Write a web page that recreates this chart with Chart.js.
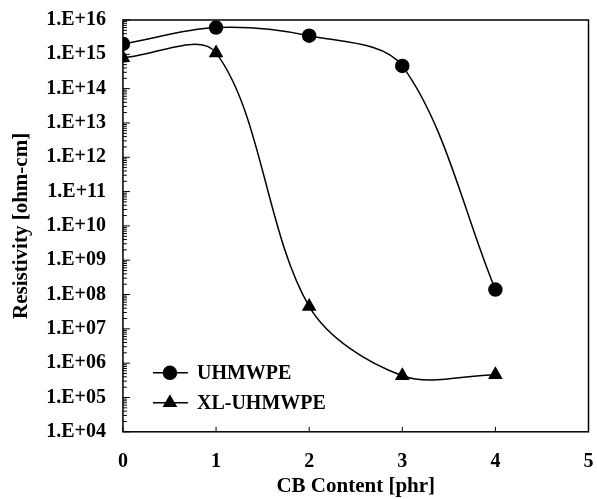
<!DOCTYPE html>
<html>
<head>
  <meta charset="UTF-8">
  <title>Resistivity vs CB Content</title>
  <script src="https://cdn.jsdelivr.net/npm/chart.js"></script>
  <style>
    html, body { margin: 0; padding: 0; background: #fff; }
    #wrap { width: 597px; height: 499px; }
  </style>
</head>
<body>
  <div id="wrap"><canvas id="resChart" width="597" height="499"></canvas></div>

  <script>
    // CB content (phr) and resistivity (ohm-cm)
    const cbContent = [0, 1, 2, 3, 4];
    const uhmwpe = [2.0e15, 6.0e15, 3.5e15, 4.6e14, 1.4e8];
    const xlUhmwpe = [8.0e14, 1.1e15, 4.5e7, 4.3e5, 4.6e5];
    const xTicks = [0, 1, 2, 3, 4, 5];
    const yDecades = [4, 5, 6, 7, 8, 9, 10, 11, 12, 13, 14, 15, 16];

    const FONT = 'Liberation Serif, Times New Roman, serif';

    // frame, inner tick marks and the legend inside the plot
    const framePlugin = {
      id: 'frame',
      afterDraw(chart) {
        const ctx = chart.ctx;
        const a = chart.chartArea;
        const xs = chart.scales.x, ys = chart.scales.y;
        ctx.save();
        ctx.strokeStyle = '#000';
        ctx.lineWidth = 1.5;
        ctx.strokeRect(a.left, a.top, a.right - a.left, a.bottom - a.top);

        ctx.lineWidth = 1;
        ctx.beginPath();
        // x ticks
        xTicks.forEach(v => {
          const px = xs.getPixelForValue(v);
          ctx.moveTo(px, a.bottom);
          ctx.lineTo(px, a.bottom - 5);
        });
        // y ticks: majors and minors on the left axis
        yDecades.forEach(d => {
          const py = ys.getPixelForValue(Math.pow(10, d));
          ctx.moveTo(a.left, py);
          ctx.lineTo(a.left + 7, py);
          if (d < 16) {
            for (let m = 2; m <= 9; m++) {
              const pm = ys.getPixelForValue(m * Math.pow(10, d));
              ctx.moveTo(a.left, pm);
              ctx.lineTo(a.left + 4, pm);
            }
          }
        });
        ctx.stroke();

        // legend
        const items = chart.data.datasets;
        const lx = a.left + 30, ly = a.bottom - 59;
        ctx.font = 'bold 20px ' + FONT;
        ctx.textBaseline = 'middle';
        ctx.fillStyle = '#000';
        items.forEach((ds, i) => {
          const y = ly + i * 30;
          ctx.lineWidth = 1.5;
          ctx.beginPath();
          ctx.moveTo(lx, y);
          ctx.lineTo(lx + 35, y);
          ctx.stroke();
          Chart.helpers.drawPoint(ctx, {
            pointStyle: ds.pointStyle,
            radius: ds.pointRadius,
            borderWidth: 1
          }, lx + 17, y);
          ctx.fillText(ds.label, lx + 44, y + 1);
        });
        ctx.restore();
      }
    };

    // Chart.js reserves tick padding on both sides of the labels; keep only one
    const fitX = s => {
      s.paddingLeft = 0; s.paddingRight = 0;
      s.height -= s.options.ticks.padding;
    };
    const fitY = s => {
      s.paddingTop = 0; s.paddingBottom = 0;
      s.width -= s.options.ticks.padding;
    };

    new Chart(document.getElementById('resChart').getContext('2d'), {
      type: 'line',
      data: {
        labels: cbContent,
        datasets: [
          {
            label: 'UHMWPE',
            data: cbContent.map((x, i) => ({ x: x, y: uhmwpe[i] })),
            borderColor: '#000',
            backgroundColor: '#000',
            borderWidth: 1.5,
            pointStyle: 'circle',
            pointRadius: 6.5,
            tension: 0.33
          },
          {
            label: 'XL-UHMWPE',
            data: cbContent.map((x, i) => ({ x: x, y: xlUhmwpe[i] })),
            borderColor: '#000',
            backgroundColor: '#000',
            borderWidth: 1.5,
            pointStyle: 'triangle',
            pointRadius: 7,
            tension: 0.33
          }
        ]
      },
      options: {
        responsive: false,
        animation: false,
        layout: { padding: { top: 20, right: 8, left: 9, bottom: 0 } },
        plugins: { legend: { display: false }, tooltip: { enabled: false } },
        scales: {
          x: {
            type: 'linear',
            min: 0,
            max: 5,
            afterBuildTicks: s => { s.ticks = xTicks.map(v => ({ value: v })); },
            afterFit: fitX,
            grid: { display: false, drawTicks: false },
            border: { display: false },
            ticks: {
              padding: 18,
              color: '#000',
              font: { family: FONT, size: 20, weight: 'bold' },
              maxRotation: 0
            },
            title: {
              display: true,
              text: 'CB Content [phr]',
              color: '#000',
              font: { family: FONT, size: 21, weight: 'bold' },
              padding: { top: 0, bottom: 0 }
            }
          },
          y: {
            type: 'logarithmic',
            min: 1e4,
            max: 1e16,
            afterBuildTicks: s => { s.ticks = yDecades.map(d => ({ value: Math.pow(10, d) })); },
            afterFit: fitY,
            grid: { display: false, drawTicks: false },
            border: { display: false },
            ticks: {
              padding: 17,
              color: '#000',
              font: { family: FONT, size: 20, weight: 'bold' },
              callback: v => '1.E+' + String(Math.round(Math.log10(v))).padStart(2, '0')
            },
            title: {
              display: true,
              text: 'Resistivity [ohm-cm]',
              color: '#000',
              font: { family: FONT, size: 21, weight: 'bold' },
              padding: { top: 0, bottom: 12 }
            }
          }
        }
      },
      plugins: [framePlugin]
    });
  </script>
</body>
</html>
